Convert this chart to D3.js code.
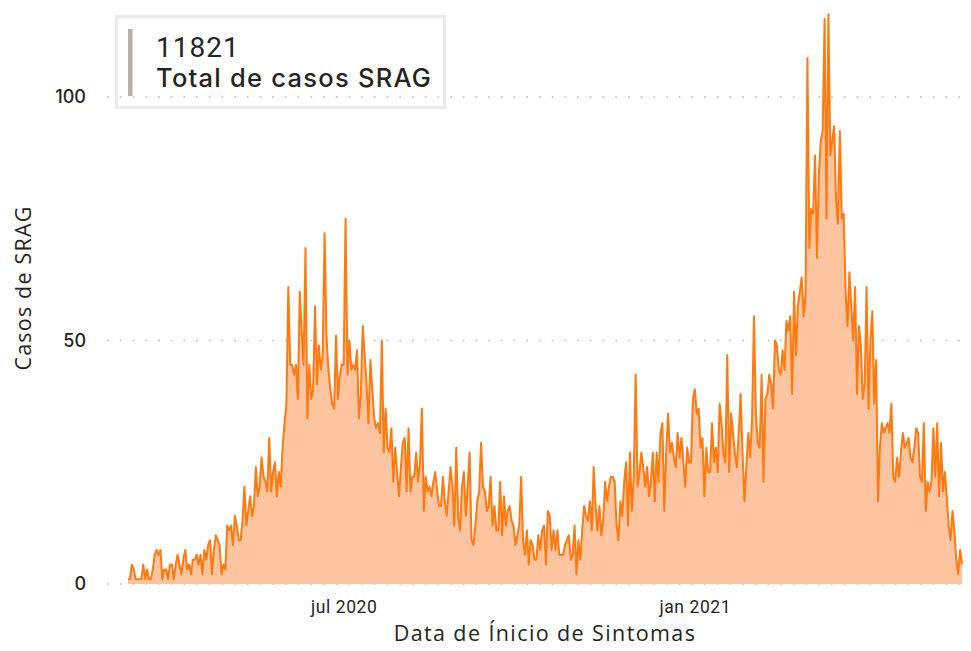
<!DOCTYPE html>
<html>
<head>
<meta charset="utf-8">
<script src="https://cdn.jsdelivr.net/npm/d3@7"></script>
<style>
  body { margin: 0; background: #fff; }
  svg { display: block; }
</style>
</head>
<body>
<div id="chart"></div>
<script>
// casos diarios de SRAG por data de inicio de sintomas, a partir de 10/03/2020
const dataInicio = new Date(2020, 2, 10);
const casos = [
  1,1,4,3,1,1,1,1,4,1, 3,1,1,3,6,7,6,7,1,3, 3,1,4,4,1,4,6,4,2,5,
  7,3,4,2,5,5,6,4,6,2, 7,5,8,9,2,7,10,9,8,2, 4,3,12,11,12,8,14,12,9,9,
  13,20,12,15,18,14,16,24,18,20, 26,22,21,19,30,
  19,23,25,18,23,20,28,33,37,61, 45,45,43,45,38,60,52,45,69,34,
  45,38,40,57,41,49,44,47,72,51, 44,40,37,36,51,38,43,45,45,75,
  43,50,44,45,44,48,34,39,53,47, 41,33,46,40,34,32,33,31,50,27,
  36,28,27,32,21,28,23,18,24,29, 30,19,32,19,22,22,
  27,21,25,36,15,22,19,20,18,21, 23,19,16,16,22,17,14,19,24,20,
  12,28,14,11,20,23,14,20,27,9, 8,12,17,19,29,20,19,15,16,22,
  12,16,11,11,21,10,18,12,15,16, 13,12,8,10,12,22,9,6,11,4,
  9,8,5,5,10,7,11,12,4,15, 14,7,11,7,11,6,
  6,6,8,9,10,5,6,12,2,9, 5,11,16,14,13,17,11,24,16,11,
  16,10,13,21,17,20,22,22,21,12, 9,17,14,21,25,12,27,15,22,43,
  20,23,27,24,20,24,18,21,27,17, 27,21,31,33,15,27,35,27,29,26,
  24,31,26,30,25,20,28,25,25,38, 40,35,36,28,30,18,
  28,23,23,33,25,28,23,37,33,27, 25,47,23,35,31,27,24,31,39,27,
  17,24,31,26,34,55,35,29,28,43, 21,38,39,43,41,36,50,49,44,43,
  48,44,54,52,55,39,60,47,57,60, 63,55,59,108,69,77,76,88,67,84,
  91,93,116,75,117,88,91,94,79,74, 93,75,76,60,53,
  64,57,50,61,39,53,49,38,41,61, 36,50,56,37,46,17,28,33,31,32,
  33,31,37,22,21,26,22,27,31,28, 29,30,26,25,28,32,31,22,21,33,
  15,21,19,21,32,22,33,18,29,19, 23,18,12,9,15,11,5,2,7,4
];
const yTicks = [0, 50, 100];
const xTicks = [new Date(2020, 6, 1), new Date(2021, 0, 1)];
const mesesAbrev = ["jan", "fev", "mar", "abr", "mai", "jun", "jul", "ago", "set", "out", "nov", "dez"];
const cartaoValor = "11821";
const cartaoRotulo = "Total de casos SRAG";

const width = 971;
const height = 651;
const textColor = "#252423";

const dados = casos.map((v, i) => ({ data: d3.timeDay.offset(dataInicio, i), valor: v }));

const svg = d3.select("#chart")
  .append("svg")
  .attr("width", width)
  .attr("height", height);

const x = d3.scaleTime()
  .domain(d3.extent(dados, (d) => d.data))
  .range([128, 962]);

const y = d3.scaleLinear()
  .domain([0, 100])
  .range([584, 97]);

// cartao com o total
svg.append("rect")
  .attr("x", 116.5)
  .attr("y", 16.5)
  .attr("width", 328)
  .attr("height", 91)
  .attr("fill", "none")
  .attr("stroke", "#ececec")
  .attr("stroke-width", 3.5);

svg.append("rect")
  .attr("x", 128)
  .attr("y", 29)
  .attr("width", 4.5)
  .attr("height", 67)
  .attr("fill", "#b5b0ac");

svg.append("text")
  .attr("x", 156)
  .attr("y", 57)
  .attr("font-family", "Roboto, sans-serif")
  .attr("font-size", 28)
  .attr("letter-spacing", 1)
  .attr("fill", textColor)
  .text(cartaoValor);

svg.append("text")
  .attr("x", 156)
  .attr("y", 87)
  .attr("font-family", "Inter, Roboto, sans-serif")
  .attr("font-weight", 500)
  .attr("font-size", 25.5)
  .attr("letter-spacing", 1.25)
  .attr("fill", textColor)
  .text(cartaoRotulo);

// grade pontilhada
svg.append("g")
  .selectAll("line")
  .data(yTicks)
  .join("line")
  .attr("x1", 108)
  .attr("x2", 970)
  .attr("y1", (d) => y(d))
  .attr("y2", (d) => y(d))
  .attr("stroke", "#c8c8c8")
  .attr("stroke-width", 2)
  .attr("stroke-linecap", "round")
  .attr("stroke-dasharray", "0.1 12.6");

// area e linha
const area = d3.area()
  .x((d) => x(d.data))
  .y0(y(0))
  .y1((d) => y(d.valor));

const line = d3.line()
  .x((d) => x(d.data))
  .y((d) => y(d.valor));

svg.append("path")
  .datum(dados)
  .attr("d", area)
  .attr("fill", "#fdc59f");

svg.append("path")
  .datum(dados)
  .attr("d", line)
  .attr("fill", "none")
  .attr("stroke", "#ff7a10")
  .attr("stroke-width", 2)
  .attr("stroke-linejoin", "round");

// eixos
const yAxis = svg.append("g")
  .attr("transform", "translate(96,0)")
  .call(d3.axisLeft(y).tickValues(yTicks).tickSize(0).tickPadding(10));
yAxis.select(".domain").remove();
yAxis.selectAll("text")
  .attr("font-family", "Inter, Roboto, sans-serif")
  .attr("font-weight", 500)
  .attr("font-size", 18)
  .attr("fill", textColor);

const xAxis = svg.append("g")
  .attr("transform", "translate(0,601)")
  .call(d3.axisBottom(x)
    .tickValues(xTicks)
    .tickSize(0)
    .tickPadding(0)
    .tickFormat((d) => `${mesesAbrev[d.getMonth()]} ${d.getFullYear()}`));
xAxis.select(".domain").remove();
xAxis.selectAll("text")
  .attr("font-family", "Roboto, sans-serif")
  .attr("font-size", 17.5)
  .attr("letter-spacing", 0.6)
  .attr("fill", textColor);

svg.append("text")
  .attr("transform", "translate(31,288) rotate(-90)")
  .attr("text-anchor", "middle")
  .attr("font-family", "'Open Sans', sans-serif")
  .attr("font-size", 21.5)
  .attr("letter-spacing", 1.2)
  .attr("fill", textColor)
  .text("Casos de SRAG");

svg.append("text")
  .attr("x", 545)
  .attr("y", 641)
  .attr("text-anchor", "middle")
  .attr("font-family", "'Open Sans', sans-serif")
  .attr("font-size", 21.5)
  .attr("letter-spacing", 1.4)
  .attr("fill", textColor)
  .text("Data de Ínicio de Sintomas");
</script>
</body>
</html>
